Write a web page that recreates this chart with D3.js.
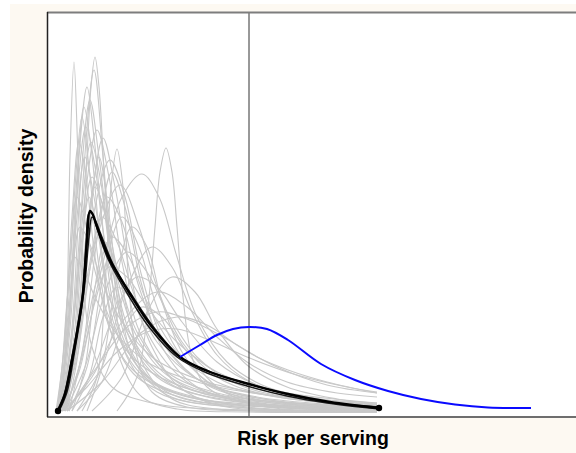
<!DOCTYPE html>
<html><head><meta charset="utf-8">
<script src="https://cdn.jsdelivr.net/npm/d3@7"></script>
<style>html,body{margin:0;padding:0;background:#fff;}svg{display:block;}</style>
</head><body>
<script>
// ---- data (arbitrary risk / density units, no tick labels in the source) ----
const xLabel = "Risk per serving";
const yLabel = "Probability density";
const referenceRisk = 2.02;

const bestEstimate = [[0.11,0.06],[0.18,0.23],[0.25,0.57],[0.31,0.90],[0.36,1.23],[0.40,1.77],[0.43,2.06],[0.46,2.02],[0.50,1.90],[0.63,1.57],[0.83,1.23],[1.05,0.90],[1.33,0.60],[1.63,0.45],[2.02,0.33],[2.41,0.23],[2.83,0.15],[3.32,0.09]];
const bestEstimateB = [[0.12,0.06],[0.20,0.25],[0.27,0.62],[0.33,0.98],[0.38,1.35],[0.42,1.80],[0.45,2.00],[0.48,1.97],[0.53,1.85],[0.66,1.53],[0.86,1.20],[1.08,0.88],[1.36,0.58],[1.66,0.44],[2.05,0.32],[2.44,0.22],[2.86,0.14],[3.32,0.10]];
const bestEstimateC = [[0.10,0.06],[0.17,0.22],[0.24,0.55],[0.30,0.88],[0.35,1.20],[0.39,1.72],[0.42,2.04],[0.45,2.04],[0.49,1.92],[0.61,1.58],[0.80,1.24],[1.02,0.90],[1.30,0.60],[1.60,0.44],[2.00,0.31],[2.40,0.21],[2.80,0.14],[3.32,0.08]];

const referenceCurve = [[1.33,0.60],[1.53,0.72],[1.70,0.82],[1.86,0.88],[2.02,0.90],[2.20,0.88],[2.41,0.77],[2.74,0.53],[3.08,0.37],[3.41,0.26],[3.74,0.18],[4.08,0.125],[4.41,0.095],[4.84,0.09]];

const uncertaintyCurves = [
 [[0.15,0.06],[0.20,1.1],[0.23,2.6],[0.27,3.55],[0.31,2.6],[0.36,1.4],[0.45,0.7],[0.65,0.3],[1.1,0.13],[2.0,0.07],[3.3,0.06]],
 [[0.17,0.06],[0.30,0.8],[0.38,2.2],[0.44,3.3],[0.48,3.6],[0.52,3.3],[0.58,2.3],[0.66,1.3],[0.80,0.6],[1.1,0.25],[2.0,0.09],[3.3,0.06]],
 [[0.16,0.06],[0.28,0.9],[0.37,2.5],[0.47,3.47],[0.56,2.6],[0.66,1.5],[0.82,0.7],[1.2,0.25],[2.0,0.1],[3.3,0.06]],
 [[0.14,0.06],[0.24,1.0],[0.32,2.6],[0.40,3.30],[0.47,2.8],[0.57,1.8],[0.72,0.9],[1.0,0.4],[1.6,0.17],[2.4,0.09],[3.3,0.06]],
 [[0.14,0.06],[0.25,0.9],[0.34,2.4],[0.43,3.17],[0.52,2.6],[0.65,1.6],[0.85,0.8],[1.2,0.38],[2.0,0.15],[3.3,0.08]],
 [[0.13,0.06],[0.22,0.9],[0.30,2.2],[0.39,2.9],[0.48,2.5],[0.60,1.6],[0.80,0.85],[1.2,0.35],[2.0,0.14],[3.3,0.07]],
 [[0.18,0.06],[0.32,0.8],[0.45,2.2],[0.56,2.79],[0.68,2.3],[0.82,1.5],[1.0,0.85],[1.4,0.35],[2.0,0.16],[3.3,0.07]],
 [[0.35,0.06],[0.50,0.4],[0.58,1.3],[0.64,2.3],[0.70,2.68],[0.76,2.3],[0.82,1.3],[0.90,0.6],[1.05,0.25],[1.4,0.1],[2.2,0.06],[3.3,0.05]],
 [[0.70,0.06],[0.90,0.4],[1.02,1.2],[1.08,1.9],[1.13,2.45],[1.19,2.69],[1.25,2.45],[1.30,1.9],[1.36,1.2],[1.45,0.6],[1.6,0.3],[2.0,0.14],[3.3,0.06]],
 [[0.18,0.06],[0.35,0.6],[0.55,1.5],[0.75,2.2],[0.95,2.43],[1.12,2.2],[1.3,1.6],[1.5,1.0],[1.8,0.55],[2.2,0.3],[2.8,0.17],[3.3,0.12]],
 [[0.15,0.06],[0.30,0.7],[0.50,1.8],[0.73,2.32],[0.92,1.9],[1.1,1.3],[1.35,0.75],[1.7,0.4],[2.2,0.22],[3.3,0.1]],
 [[0.16,0.06],[0.30,0.8],[0.46,2.0],[0.63,2.57],[0.78,2.2],[0.95,1.4],[1.2,0.7],[1.6,0.32],[2.2,0.16],[3.3,0.07]],
 [[0.15,0.06],[0.26,0.9],[0.38,2.2],[0.50,2.87],[0.62,2.4],[0.76,1.5],[0.95,0.8],[1.3,0.35],[2.0,0.15],[3.3,0.07]],
 [[0.12,0.06],[0.20,0.9],[0.28,2.3],[0.35,3.0],[0.42,2.5],[0.52,1.5],[0.66,0.8],[0.9,0.4],[1.4,0.18],[2.2,0.1],[3.3,0.06]],
 [[0.15,0.06],[0.28,0.6],[0.42,1.5],[0.55,2.0],[0.70,1.75],[0.88,1.2],[1.1,0.75],[1.5,0.38],[2.1,0.2],[3.3,0.1]],
 [[0.17,0.06],[0.32,0.5],[0.48,1.3],[0.65,1.8],[0.82,1.6],[1.0,1.15],[1.3,0.65],[1.7,0.35],[2.3,0.2],[3.3,0.11]],
 [[0.18,0.06],[0.38,0.5],[0.60,1.3],[0.80,1.65],[1.0,1.45],[1.2,1.05],[1.5,0.6],[1.9,0.33],[2.5,0.18],[3.3,0.11]],
 [[0.30,0.06],[0.55,0.5],[0.80,1.3],[1.05,1.7],[1.25,1.5],[1.45,1.05],[1.7,0.62],[2.0,0.37],[2.5,0.2],[3.3,0.12]],
 [[0.18,0.06],[0.45,0.4],[0.75,0.95],[1.10,1.25],[1.4,1.1],[1.7,0.8],[2.0,0.55],[2.4,0.35],[2.9,0.24],[3.3,0.2]],
 [[0.20,0.06],[0.55,0.35],[0.95,0.85],[1.3,1.0],[1.6,0.92],[1.9,0.72],[2.3,0.5],[2.8,0.32],[3.3,0.24]],
 [[0.20,0.06],[0.45,0.45],[0.7,1.1],[0.9,1.4],[1.1,1.3],[1.35,0.95],[1.7,0.55],[2.1,0.32],[2.7,0.18],[3.3,0.12]],
 [[0.14,0.06],[0.24,0.7],[0.35,1.8],[0.45,2.4],[0.56,2.1],[0.70,1.4],[0.90,0.8],[1.2,0.42],[1.8,0.2],[3.3,0.08]],
 [[0.16,0.06],[0.30,0.6],[0.45,1.6],[0.60,2.2],[0.75,1.95],[0.92,1.3],[1.15,0.75],[1.5,0.38],[2.1,0.19],[3.3,0.09]],
 [[0.12,0.06],[0.21,0.8],[0.30,2.0],[0.38,2.6],[0.47,2.2],[0.60,1.35],[0.78,0.7],[1.1,0.33],[1.7,0.15],[3.3,0.06]],
 [[0.20,0.06],[0.32,0.7],[0.43,2.0],[0.52,2.6],[0.61,2.1],[0.72,1.2],[0.88,0.55],[1.2,0.22],[2.0,0.09],[3.3,0.06]],
 [[0.22,0.06],[0.40,0.5],[0.58,1.5],[0.75,2.0],[0.92,1.7],[1.1,1.1],[1.35,0.6],[1.7,0.3],[2.3,0.16],[3.3,0.09]],
 [[0.10,0.06],[0.17,0.7],[0.24,1.7],[0.30,2.2],[0.37,2.0],[0.47,1.5],[0.62,1.0],[0.85,0.6],[1.3,0.32],[2.0,0.18],[3.3,0.1]],
 [[0.10,0.06],[0.18,0.6],[0.26,1.5],[0.33,1.9],[0.42,1.75],[0.55,1.35],[0.75,0.95],[1.05,0.6],[1.5,0.38],[2.1,0.24],[2.7,0.17],[3.3,0.13]],
 [[0.40,0.06],[0.55,0.5],[0.70,1.4],[0.85,1.9],[1.0,1.7],[1.15,1.15],[1.35,0.65],[1.6,0.35],[2.0,0.18],[3.3,0.07]],
 [[0.15,0.06],[0.32,0.45],[0.48,1.15],[0.62,1.5],[0.80,1.4],[1.0,1.1],[1.3,0.75],[1.7,0.45],[2.3,0.26],[3.3,0.14]],
 [[0.45,0.06],[0.75,0.4],[1.0,1.05],[1.25,1.4],[1.48,1.25],[1.7,0.88],[2.0,0.52],[2.4,0.3],[2.9,0.18],[3.3,0.13]],
 [[0.15,0.06],[0.40,0.3],[0.70,0.65],[1.0,0.85],[1.3,0.88],[1.6,0.78],[2.0,0.6],[2.5,0.42],[3.0,0.3],[3.3,0.25]],
 [[0.18,0.06],[0.27,0.6],[0.35,1.7],[0.42,2.2],[0.50,1.9],[0.60,1.2],[0.74,0.55],[0.95,0.2],[1.3,0.08],[2.0,0.05],[3.3,0.05]],
 [[0.25,0.06],[0.38,0.5],[0.48,1.3],[0.58,1.75],[0.70,1.5],[0.84,0.9],[1.0,0.45],[1.25,0.18],[1.7,0.08],[3.3,0.05]],
 [[0.25,0.06],[0.42,0.4],[0.56,1.0],[0.70,1.3],[0.86,1.15],[1.05,0.7],[1.3,0.32],[1.7,0.12],[2.4,0.06],[3.3,0.05]],
 [[0.30,0.06],[0.55,0.35],[0.75,0.85],[0.95,1.1],[1.15,1.0],[1.4,0.65],[1.7,0.3],[2.1,0.12],[2.7,0.06],[3.3,0.05]],
 [[0.16,0.06],[0.28,0.7],[0.39,1.8],[0.48,2.3],[0.58,2.05],[0.72,1.4],[0.90,0.85],[1.2,0.45],[1.7,0.24],[2.5,0.13],[3.3,0.09]],
 [[0.13,0.06],[0.22,1.0],[0.30,2.4],[0.37,3.1],[0.44,2.7],[0.54,1.7],[0.68,0.9],[0.95,0.42],[1.5,0.18],[2.3,0.1],[3.3,0.06]],
 [[0.15,0.06],[0.25,0.8],[0.35,2.1],[0.44,2.75],[0.53,2.4],[0.65,1.5],[0.82,0.8],[1.1,0.4],[1.6,0.2],[2.4,0.11],[3.3,0.07]],
 [[0.09,0.06],[0.15,0.5],[0.21,1.25],[0.27,1.6],[0.35,1.5],[0.48,1.2],[0.68,0.85],[1.0,0.55],[1.5,0.35],[2.2,0.22],[3.3,0.14]],
 [[0.20,0.06],[0.5,0.5],[0.8,0.9],[1.1,1.05],[1.4,0.98],[1.8,0.78],[2.1,0.6],[2.41,0.47],[2.8,0.35],[3.3,0.24]],
 [[0.22,0.06],[0.36,0.7],[0.52,1.9],[0.65,2.45],[0.78,2.1],[0.94,1.35],[1.15,0.7],[1.5,0.3],[2.1,0.13],[3.3,0.06]],
 [[0.11,0.06],[0.18,0.8],[0.25,2.0],[0.32,2.75],[0.39,2.4],[0.48,1.6],[0.62,0.9],[0.85,0.48],[1.3,0.23],[2.1,0.12],[3.3,0.07]]
];

// ---- drawing ----
const W = 576, H = 453;
const svg = d3.select("body").append("svg").attr("width", W).attr("height", H);

svg.append("rect").attr("x", 10).attr("y", 4).attr("width", W - 10).attr("height", H - 4).attr("fill", "#fdf9f2");

const plot = {left: 47, top: 12, right: 576, bottom: 417};
svg.append("rect").attr("x", plot.left).attr("y", plot.top)
  .attr("width", plot.right - plot.left).attr("height", plot.bottom - plot.top).attr("fill", "#ffffff");

const x = d3.scaleLinear().domain([0, 5.29]).range([plot.left, plot.right]);
const y = d3.scaleLinear().domain([0, 4.05]).range([plot.bottom, plot.top]);

const line = d3.line().x(d => x(d[0])).y(d => y(d[1])).curve(d3.curveCatmullRom.alpha(0.5));

svg.append("clipPath").attr("id", "clip").append("rect")
  .attr("x", plot.left).attr("y", plot.top).attr("width", plot.right - plot.left).attr("height", plot.bottom - plot.top);

const g = svg.append("g").attr("clip-path", "url(#clip)");

g.selectAll("path.unc").data(uncertaintyCurves).enter().append("path")
  .attr("class", "unc").attr("d", line)
  .attr("fill", "none").attr("stroke", "#c8c8c8").attr("stroke-width", 1.1);

g.append("line").attr("x1", x(referenceRisk)).attr("x2", x(referenceRisk))
  .attr("y1", plot.top).attr("y2", plot.bottom).attr("stroke", "#333").attr("stroke-width", 1);

g.selectAll("path.best").data([bestEstimateB, bestEstimateC]).enter().append("path")
  .attr("class", "best").attr("d", line)
  .attr("fill", "none").attr("stroke", "#1a1a1a").attr("stroke-width", 1.5);
g.append("path").datum(bestEstimate).attr("d", line)
  .attr("fill", "none").attr("stroke", "#000").attr("stroke-width", 2.4);

g.selectAll("circle.end").data([bestEstimate[0], bestEstimate[bestEstimate.length - 1]]).enter()
  .append("circle").attr("cx", d => x(d[0])).attr("cy", d => y(d[1])).attr("r", 3.2).attr("fill", "#000");

g.append("path").datum(referenceCurve).attr("d", line)
  .attr("fill", "none").attr("stroke", "#0a0aff").attr("stroke-width", 2);

// frame
svg.append("line").attr("x1", plot.left).attr("x2", plot.right).attr("y1", plot.top + 0.5).attr("y2", plot.top + 0.5)
  .attr("stroke", "#7d7d7d").attr("stroke-width", 2);
svg.append("line").attr("x1", plot.left).attr("x2", plot.right).attr("y1", plot.bottom).attr("y2", plot.bottom)
  .attr("stroke", "#6e6e6e").attr("stroke-width", 2);
svg.append("line").attr("x1", plot.left + 0.5).attr("x2", plot.left + 0.5).attr("y1", plot.top).attr("y2", plot.bottom)
  .attr("stroke", "#222").attr("stroke-width", 1.5);

// labels
svg.append("text").attr("x", 313).attr("y", 445).attr("text-anchor", "middle")
  .style("font-family", "'Liberation Sans', Arial, sans-serif").style("font-weight", "bold").style("font-size", "19.5px")
  .attr("fill", "#000").text(xLabel);
svg.append("text").attr("transform", "translate(32.5,216) rotate(-90)").attr("text-anchor", "middle")
  .style("font-family", "'Liberation Sans', Arial, sans-serif").style("font-weight", "bold").style("font-size", "19.5px")
  .attr("fill", "#000").text(yLabel);
</script>
</body></html>
